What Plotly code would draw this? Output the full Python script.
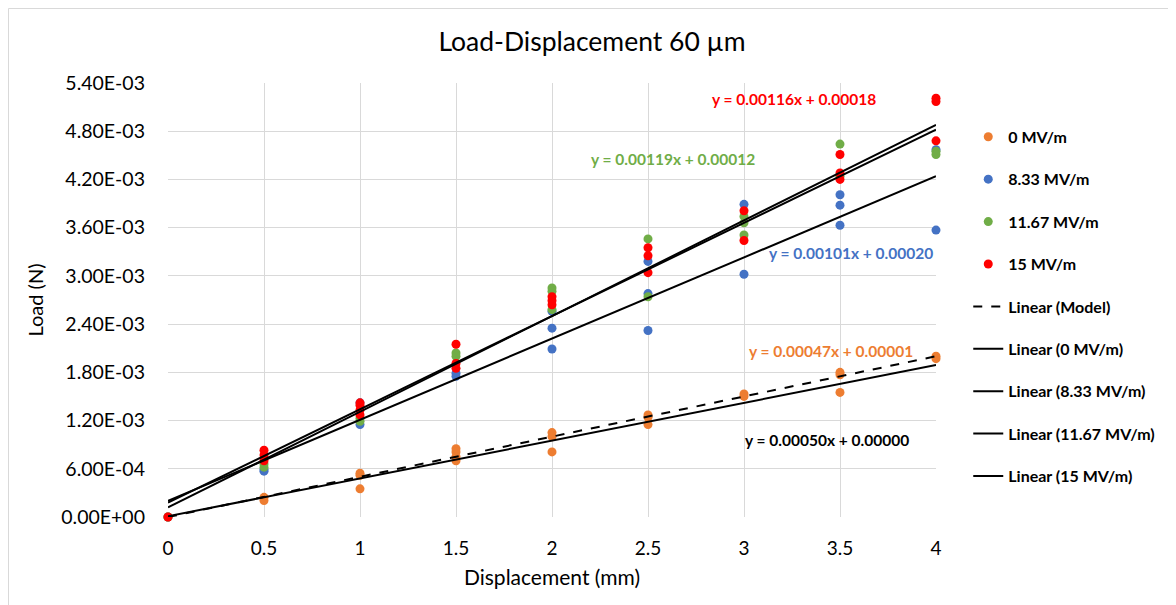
import plotly.graph_objects as go

# ---- data ----
x_0 = [0, 0.5, 0.5, 1, 1, 1, 1.5, 1.5, 1.5, 1.5, 2, 2, 2, 2.5, 2.5, 2.5, 3, 3, 3.5, 3.5, 3.5, 4, 4]
y_0 = [0, 2.45e-4, 2.05e-4, 5.45e-4, 5.2e-4, 3.5e-4, 8.5e-4, 8.1e-4, 7.5e-4, 7.0e-4,
       1.05e-3, 1.0e-3, 8.1e-4, 1.27e-3, 1.24e-3, 1.15e-3, 1.53e-3, 1.50e-3,
       1.80e-3, 1.77e-3, 1.55e-3, 2.0e-3, 1.97e-3]

x_833 = [0, 0.5, 0.5, 1, 1, 1.5, 1.5, 2, 2, 2, 2.5, 2.5, 2.5, 3, 3, 3.5, 3.5, 3.5, 4, 4]
y_833 = [0, 5.7e-4, 5.9e-4, 1.42e-3, 1.15e-3, 1.79e-3, 1.75e-3, 2.56e-3, 2.35e-3, 2.09e-3,
         3.18e-3, 2.78e-3, 2.32e-3, 3.89e-3, 3.02e-3, 4.01e-3, 3.88e-3, 3.63e-3, 4.57e-3, 3.57e-3]

x_1167 = [0, 0.5, 0.5, 1, 1, 1.5, 1.5, 2, 2, 2, 2.5, 2.5, 3, 3, 3, 3.5, 3.5, 4, 4]
y_1167 = [0, 6.6e-4, 6.2e-4, 1.23e-3, 1.19e-3, 2.04e-3, 2.0e-3, 2.85e-3, 2.81e-3, 2.58e-3,
          3.46e-3, 2.74e-3, 3.74e-3, 3.66e-3, 3.51e-3, 4.64e-3, 4.24e-3, 4.55e-3, 4.51e-3]

x_15 = [0, 0.5, 0.5, 0.5, 1, 1, 1, 1, 1.5, 1.5, 1.5, 2, 2, 2, 2.5, 2.5, 2.5, 3, 3, 3.5, 3.5, 3.5, 4, 4, 4]
y_15 = [0, 8.3e-4, 7.7e-4, 7.0e-4, 1.42e-3, 1.39e-3, 1.33e-3, 1.27e-3, 2.15e-3, 1.91e-3, 1.85e-3,
        2.74e-3, 2.69e-3, 2.64e-3, 3.35e-3, 3.25e-3, 3.04e-3, 3.81e-3, 3.44e-3,
        4.51e-3, 4.28e-3, 4.20e-3, 5.21e-3, 5.17e-3, 4.68e-3]

series_names = ["0 MV/m", "8.33 MV/m", "11.67 MV/m", "15 MV/m"]
series_colors = ["#ED7D31", "#4472C4", "#70AD47", "#FF0000"]

# trendline equations (slope, intercept)
fit_names = ["Linear (Model)", "Linear (0 MV/m)", "Linear (8.33 MV/m)", "Linear (11.67 MV/m)", "Linear (15 MV/m)"]
fit_slopes = [0.00050, 0.00047, 0.00101, 0.00119, 0.00116]
fit_intercepts = [0.00000, 0.00001, 0.00020, 0.00012, 0.00018]
fit_range = [0, 4]
eq_colors = ["#000000", "#ED7D31", "#4472C4", "#70AD47", "#FF0000"]
eq_pos_x = [2.995, 3.014, 3.118, 2.193, 2.823]
eq_pos_y = [9.6e-4, 2.07e-3, 3.29e-3, 4.453e-3, 5.2e-3]

y_tickvals = [0, 6e-4, 1.2e-3, 1.8e-3, 2.4e-3, 3.0e-3, 3.6e-3, 4.2e-3, 4.8e-3, 5.4e-3]
y_ticktext = ["0.00E+00", "6.00E-04", "1.20E-03", "1.80E-03", "2.40E-03",
              "3.00E-03", "3.60E-03", "4.20E-03", "4.80E-03", "5.40E-03"]
x_tickvals = [0, 0.5, 1, 1.5, 2, 2.5, 3, 3.5, 4]
x_ticktext = ["0", "0.5", "1", "1.5", "2", "2.5", "3", "3.5", "4"]

FONT = "Lato"
L, R, T, B = 160, 248, 75, 96
W, H = 1176, 605
PW = W - L - R
PH = H - T - B

fig = go.Figure()
for i, (xs, ys) in enumerate([(x_0, y_0), (x_833, y_833), (x_1167, y_1167), (x_15, y_15)]):
    fig.add_trace(go.Scatter(
        x=xs, y=ys, mode="markers", name=series_names[i],
        marker=dict(color=series_colors[i], size=9, line=dict(width=0)),
        legendgroup=f"g{i}", cliponaxis=False,
    ))

for j in range(len(fit_names)):
    xs = fit_range
    ys = [fit_slopes[j] * v + fit_intercepts[j] for v in xs]
    fig.add_trace(go.Scatter(
        x=xs, y=ys, mode="lines", name=fit_names[j],
        line=dict(color="black", width=2, dash="dash" if j == 0 else "solid"),
        legendgroup=f"f{j}", cliponaxis=False,
    ))

for j in range(len(fit_names)):
    txt = f"y = {fit_slopes[j]:.5f}x + {fit_intercepts[j]:.5f}"
    fig.add_annotation(
        x=eq_pos_x[j], y=eq_pos_y[j], text=f"<b>{txt}</b>", showarrow=False,
        xanchor="left", yanchor="middle",
        font=dict(family=FONT, size=15.5, color=eq_colors[j]),
    )

# outer chart frame (left/top edges visible)
fig.add_shape(type="rect", xref="paper", yref="paper",
              x0=(0.5 - L) / PW, x1=1.6, y0=-0.6, y1=(H - B - 0.5) / PH,
              line=dict(color="#d9d9d9", width=1), layer="below")

fig.update_layout(
    width=W, height=H,
    margin=dict(l=L, r=R, t=T, b=B, autoexpand=False),
    paper_bgcolor="white", plot_bgcolor="white",
    title=dict(text="Load-Displacement 60 µm", x=584 / W, xanchor="center",
               y=1 - 34 / H, yanchor="middle",
               font=dict(family=FONT, size=26.5, color="#000000")),
    font=dict(family=FONT, color="#000000"),
    showlegend=True,
    legend=dict(x=1.042, xanchor="left", y=0.915, yanchor="top",
                font=dict(family=FONT, size=16, color="#000000", weight="bold"),
                tracegroupgap=18.6, bgcolor="rgba(0,0,0,0)"),
    xaxis=dict(range=[0, 4], tickvals=x_tickvals, ticktext=x_ticktext,
               showgrid=True, gridcolor="#d9d9d9", gridwidth=1,
               zeroline=False, showline=False, ticks="", automargin=False,
               ticklabelstandoff=18,
               tickfont=dict(family=FONT, size=19),
               title=dict(text="Displacement (mm)", font=dict(family=FONT, size=21), standoff=12)),
    yaxis=dict(range=[0, 5.4e-3], tickvals=y_tickvals, ticktext=y_ticktext,
               showgrid=True, gridcolor="#d9d9d9", gridwidth=1,
               zeroline=False, showline=False, ticks="", automargin=False,
               ticklabelstandoff=22,
               tickfont=dict(family=FONT, size=19.5),
               title=dict(text="Load (N)", font=dict(family=FONT, size=20), standoff=12)),
)

fig.write_html("out.html")
